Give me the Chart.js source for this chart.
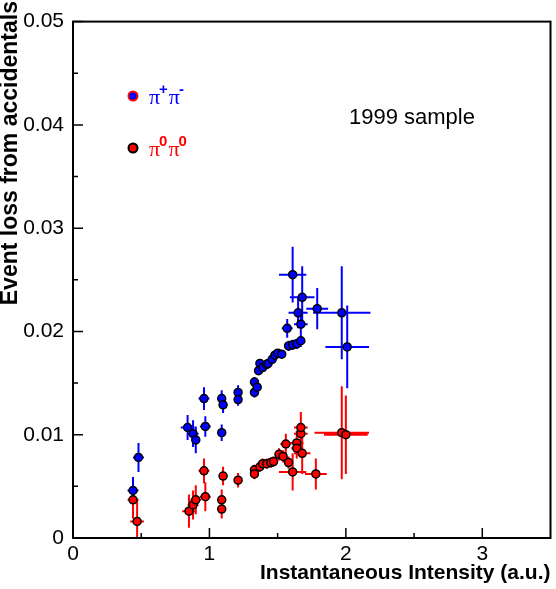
<!DOCTYPE html>
<html>
<head>
<meta charset="utf-8">
<script src="https://cdn.jsdelivr.net/npm/chart.js@4"></script>
<style>
  html, body { margin: 0; padding: 0; background: #fff; }
  #wrap { width: 556px; height: 589px; position: relative; }
</style>
</head>
<body>
<div id="wrap"><canvas id="chart"></canvas></div>
<script>
// pi+ pi- sample (blue)
const chX  = [0.44, 0.48, 0.84, 0.88, 0.90, 0.97, 0.96, 1.09, 1.10, 1.09, 1.21, 1.21, 1.33, 1.33, 1.35,
              1.36, 1.37, 1.39, 1.42, 1.43, 1.46, 1.48, 1.50, 1.53, 1.58, 1.61, 1.64, 1.67,
              1.57, 1.67, 1.65, 1.61, 1.68, 1.79, 1.97, 2.01];
const chY  = [0.0046, 0.0078, 0.0107, 0.0101, 0.0095, 0.0108, 0.0135, 0.0135, 0.0129, 0.0102, 0.0141, 0.0134, 0.0151, 0.0141, 0.0146,
              0.0162, 0.0169, 0.0165, 0.0168, 0.0169, 0.0173, 0.0177, 0.0179, 0.0178, 0.0186, 0.0187, 0.0188, 0.0191,
              0.0203, 0.0207, 0.0218, 0.0255, 0.0233, 0.0222, 0.0218, 0.0185];
const chEx = [0.04, 0.04, 0.05, 0.04, 0.03, 0.04, 0.04, 0.03, 0.03, 0.03, 0.02, 0.02, 0.02, 0.02, 0.02,
              0.02, 0.02, 0.02, 0.02, 0.02, 0.02, 0.02, 0.02, 0.02, 0.02, 0.02, 0.02, 0.02,
              0.04, 0.05, 0.07, 0.10, 0.09, 0.08, 0.21, 0.16];
const chEy = [0.0013, 0.0014, 0.0012, 0.0013, 0.0013, 0.0010, 0.0011, 0.0008, 0.0008, 0.0008, 0.0007, 0.0006, 0.0005, 0.0005, 0.0004,
              0.0004, 0.0004, 0.0004, 0.0004, 0.0004, 0.0004, 0.0004, 0.0004, 0.0004, 0.0005, 0.0005, 0.0005, 0.0006,
              0.0009, 0.0012, 0.0015, 0.0027, 0.0030, 0.0020, 0.0045, 0.0040];

// pi0 pi0 sample (red)
const neX  = [0.44, 0.47, 0.85, 0.88, 0.90, 0.97, 0.96, 1.09, 1.09, 1.10, 1.21, 1.33, 1.33, 1.37, 1.39, 1.42,
              1.45, 1.47, 1.51, 1.54, 1.56, 1.58, 1.61, 1.64, 1.64, 1.67, 1.67, 1.68, 1.78, 1.97, 2.00];
const neY  = [0.0037, 0.0016, 0.0026, 0.0032, 0.0037, 0.0040, 0.0065, 0.0037, 0.0028, 0.0060, 0.0056, 0.0066, 0.0062, 0.0069, 0.0072, 0.0072,
              0.0073, 0.0074, 0.0081, 0.0079, 0.0091, 0.0073, 0.0064, 0.0092, 0.0087, 0.0101, 0.0107, 0.0082, 0.0062, 0.0102, 0.0100];
const neEx = [0.04, 0.05, 0.05, 0.04, 0.04, 0.04, 0.04, 0.03, 0.03, 0.03, 0.02, 0.02, 0.02, 0.02, 0.02, 0.02,
              0.02, 0.02, 0.03, 0.03, 0.04, 0.03, 0.10, 0.05, 0.04, 0.05, 0.05, 0.06, 0.08, 0.20, 0.16];
const neEy = [0.0018, 0.0022, 0.0016, 0.0014, 0.0014, 0.0014, 0.0012, 0.0010, 0.0009, 0.0009, 0.0007, 0.0005, 0.0005, 0.0005, 0.0005, 0.0005,
              0.0005, 0.0005, 0.0006, 0.0006, 0.0010, 0.0006, 0.0018, 0.0012, 0.0010, 0.0015, 0.0015, 0.0020, 0.0015, 0.0045, 0.0038];

const xTicks = [0, 1, 2, 3];
const yTicks = [0, 0.01, 0.02, 0.03, 0.04, 0.05];

const BLUE = "#0000ff";
const RED = "#ff0000";

// error bars under the markers
const errorBars = {
  id: "errorBars",
  beforeDatasetsDraw(chart) {
    const { ctx, chartArea: a, scales: { x, y } } = chart;
    ctx.save();
    ctx.beginPath();
    ctx.rect(a.left, a.top, a.right - a.left, a.bottom - a.top);
    ctx.clip();
    ctx.lineWidth = 2;
    [[neX, neY, neEx, neEy, RED], [chX, chY, chEx, chEy, BLUE]].forEach(([xs, ys, exs, eys, col]) => {
      ctx.strokeStyle = col;
      ctx.beginPath();
      xs.forEach((v, i) => {
        const px = x.getPixelForValue(v);
        const py = y.getPixelForValue(ys[i]);
        ctx.moveTo(x.getPixelForValue(v - exs[i]), py);
        ctx.lineTo(x.getPixelForValue(v + exs[i]), py);
        ctx.moveTo(px, y.getPixelForValue(ys[i] - eys[i]));
        ctx.lineTo(px, y.getPixelForValue(ys[i] + eys[i]));
      });
      ctx.stroke();
    });
    ctx.restore();
  }
};

// frame, inner ticks, titles, legend, annotation
const decor = {
  id: "decor",
  afterDraw(chart) {
    const { ctx, chartArea: a, scales: { x, y } } = chart;
    ctx.save();
    ctx.strokeStyle = "#000";
    ctx.lineWidth = 2;
    ctx.strokeRect(a.left, a.top, a.right - a.left, a.bottom - a.top);

    ctx.lineWidth = 1.5;
    ctx.beginPath();
    yTicks.forEach((v, i) => {
      const py = y.getPixelForValue(v);
      ctx.moveTo(a.left, py); ctx.lineTo(a.left + 10, py);
      if (i < yTicks.length - 1) {
        const pm = y.getPixelForValue((v + yTicks[i + 1]) / 2);
        ctx.moveTo(a.left, pm); ctx.lineTo(a.left + 5, pm);
      }
    });
    xTicks.forEach((v) => {
      const px = x.getPixelForValue(v);
      ctx.moveTo(px, a.bottom); ctx.lineTo(px, a.bottom - 10);
      const m = v + 0.5;
      if (m < x.max) {
        const pm = x.getPixelForValue(m);
        ctx.moveTo(pm, a.bottom); ctx.lineTo(pm, a.bottom - 5);
      }
    });
    ctx.stroke();

    // axis titles
    ctx.fillStyle = "#000";
    ctx.font = "bold 21px 'Liberation Sans', Arial";
    ctx.textAlign = "right";
    ctx.textBaseline = "alphabetic";
    ctx.fillText("Instantaneous Intensity (a.u.)", a.right, 579);

    ctx.save();
    ctx.font = "bold 23px 'Liberation Sans', Arial";
    ctx.translate(17, 1);
    ctx.rotate(-Math.PI / 2);
    ctx.textAlign = "right";
    ctx.fillText("Event loss from accidentals", 0, 0);
    ctx.restore();

    // annotation
    ctx.font = "22px 'Liberation Sans', Arial";
    ctx.textAlign = "left";
    ctx.fillText("1999 sample", 349, 124);

    // legend markers
    ctx.lineWidth = 2;
    ctx.beginPath(); ctx.arc(133, 96, 4.5, 0, Math.PI * 2);
    ctx.fillStyle = BLUE; ctx.fill(); ctx.strokeStyle = RED; ctx.stroke();
    ctx.beginPath(); ctx.arc(133, 148, 4.5, 0, Math.PI * 2);
    ctx.fillStyle = RED; ctx.fill(); ctx.strokeStyle = "#000"; ctx.stroke();

    // legend labels
    const piLabel = (x0, base, sup, col) => {
      ctx.fillStyle = col;
      let cx = x0;
      for (let k = 0; k < 2; k++) {
        ctx.font = "22px 'Liberation Serif', 'Times New Roman'";
        ctx.fillText("\u03c0", cx, base);
        cx += ctx.measureText("\u03c0").width - 1;
        ctx.font = "bold 15px 'Liberation Sans', Arial";
        ctx.fillText(sup[k], cx, base - 10);
        cx += ctx.measureText(sup[k]).width + 1;
      }
    };
    piLabel(149, 104, ["+", "-"], BLUE);
    piLabel(149, 156, ["0", "0"], RED);
    ctx.restore();
  }
};

const pointStyle = (fill) => ({
  pointRadius: 4,
  pointHoverRadius: 4,
  pointBackgroundColor: fill,
  pointBorderColor: "#000",
  pointBorderWidth: 1.5,
  showLine: false,
});

new Chart(document.getElementById("chart"), {
  type: "scatter",
  data: {
    datasets: [
      { label: "pi0pi0", data: neX.map((v, i) => ({ x: v, y: neY[i] })), ...pointStyle(RED) },
      { label: "pi+pi-", data: chX.map((v, i) => ({ x: v, y: chY[i] })), ...pointStyle(BLUE) },
    ],
  },
  options: {
    responsive: true,
    maintainAspectRatio: false,
    animation: false,
    layout: { padding: { top: 18, right: 5, left: 0, bottom: 0 } },
    plugins: { legend: { display: false }, tooltip: { enabled: false } },
    scales: {
      x: {
        type: "linear",
        min: 0,
        max: 3.5,
        afterBuildTicks: (s) => { s.ticks = xTicks.map((v) => ({ value: v })); },
        afterFit: (s) => { s.height = 51; },
        grid: { display: false, drawTicks: false },
        border: { display: false },
        ticks: {
          autoSkip: false,
          maxRotation: 0,
          padding: 4,
          color: "#000",
          font: { family: "'Liberation Sans', Arial", size: 21 },
          callback: (v) => String(v),
        },
      },
      y: {
        type: "linear",
        min: 0,
        max: 0.05,
        afterBuildTicks: (s) => { s.ticks = yTicks.map((v) => ({ value: v })); },
        afterFit: (s) => { s.width = 73; },
        grid: { display: false, drawTicks: false },
        border: { display: false },
        ticks: {
          padding: 9,
          color: "#000",
          font: { family: "'Liberation Sans', Arial", size: 21 },
          callback: (v) => (v === 0 ? "0" : v.toFixed(2)),
        },
      },
    },
  },
  plugins: [errorBars, decor],
});
</script>
</body>
</html>
